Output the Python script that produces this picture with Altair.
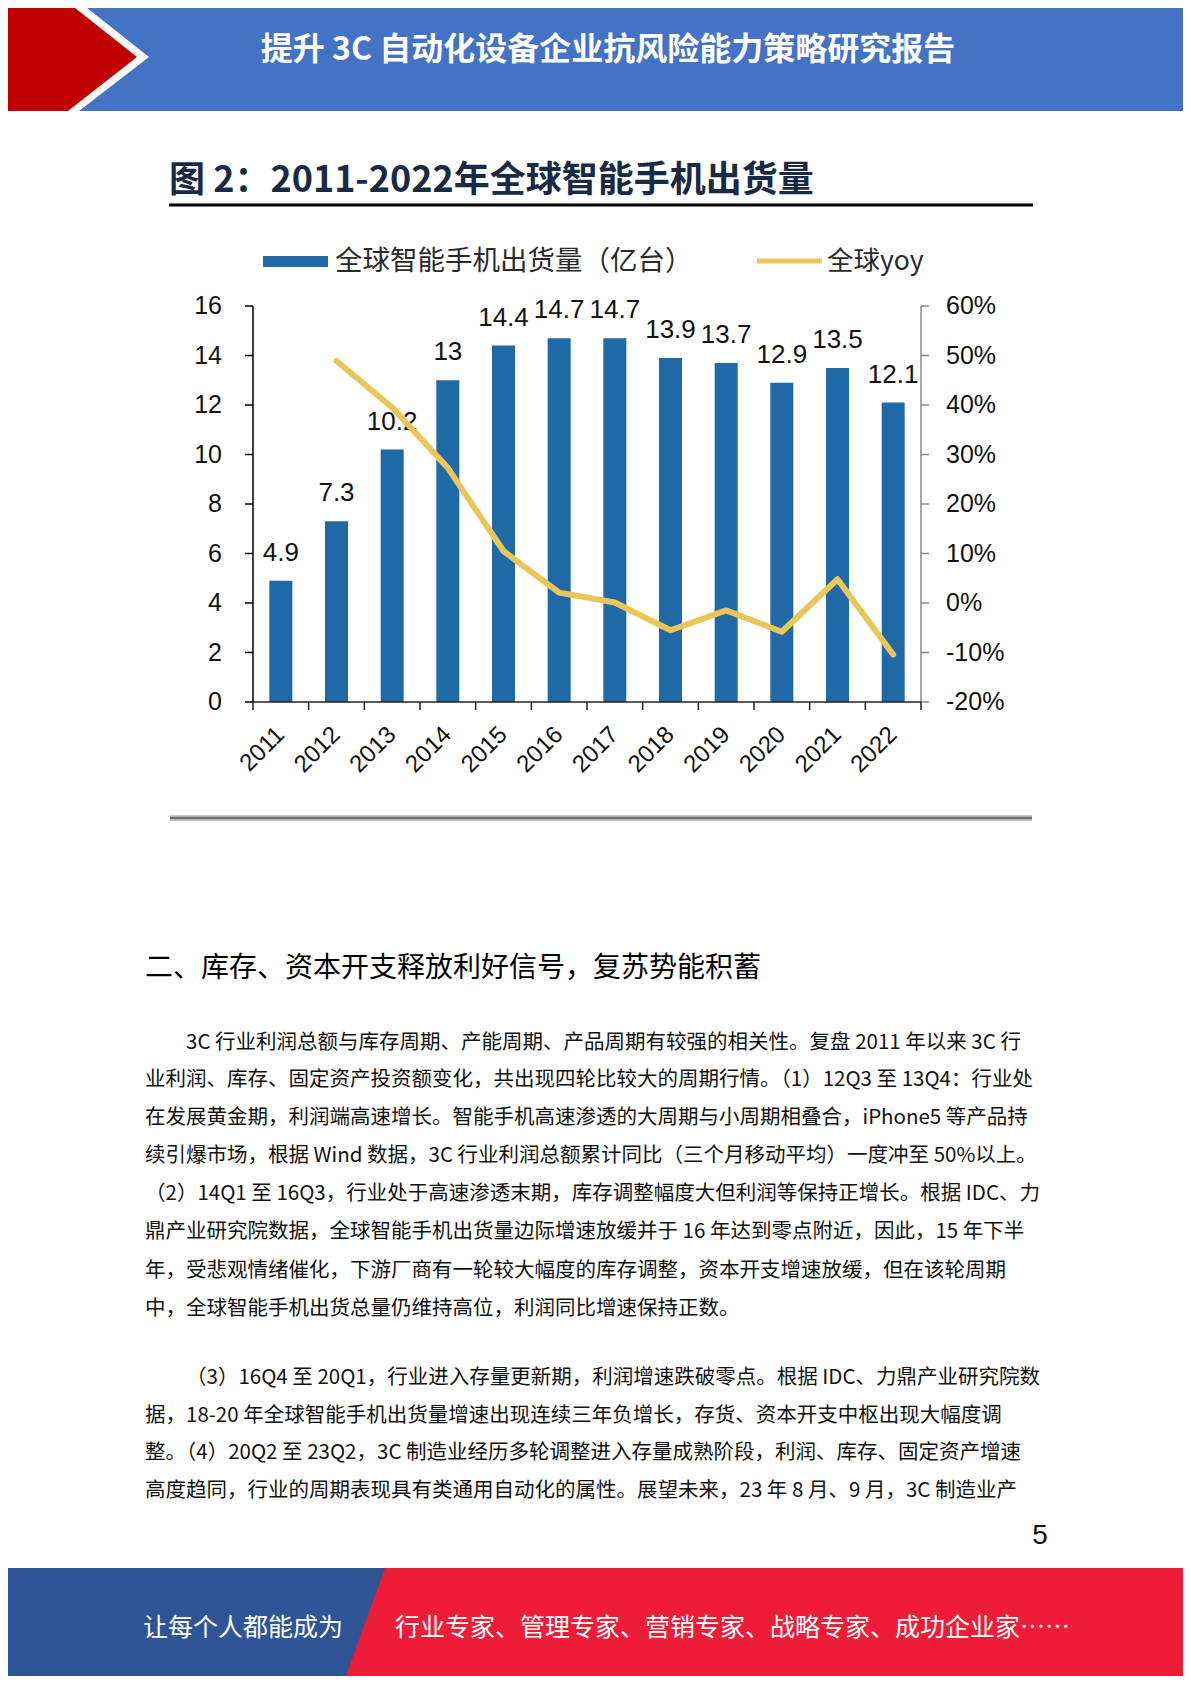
import altair as alt
import pandas as pd

# ---------------- data ----------------
years = ["2011", "2012", "2013", "2014", "2015", "2016", "2017", "2018", "2019", "2020", "2021", "2022"]
shipments = [4.9, 7.3, 10.2, 13, 14.4, 14.7, 14.7, 13.9, 13.7, 12.9, 13.5, 12.1]
ship_labels = ["4.9", "7.3", "10.2", "13", "14.4", "14.7", "14.7", "13.9", "13.7", "12.9", "13.5", "12.1"]
yoy_years = ["2012", "2013", "2014", "2015", "2016", "2017", "2018", "2019", "2020", "2021", "2022"]
yoy = [48.9, 39.5, 27.3, 10.5, 2.1, 0.1, -5.5, -1.5, -5.8, 4.8, -10.4]
left_ticks = [0, 2, 4, 6, 8, 10, 12, 14, 16]
left_tick_labels = ["0", "2", "4", "6", "8", "10", "12", "14", "16"]
right_ticks = [-20, -10, 0, 10, 20, 30, 40, 50, 60]
right_tick_labels = ["-20%", "-10%", "0%", "10%", "20%", "30%", "40%", "50%", "60%"]
band_edges = list(range(13))

header_title = "提升 3C 自动化设备企业抗风险能力策略研究报告"
chart_title = "图 2：2011-2022年全球智能手机出货量"
legend_bar = "全球智能手机出货量（亿台）"
legend_line = "全球yoy"
section_heading = "二、库存、资本开支释放利好信号，复苏势能积蓄"
body_lines = [
    "3C 行业利润总额与库存周期、产能周期、产品周期有较强的相关性。复盘 2011 年以来 3C 行",
    "业利润、库存、固定资产投资额变化，共出现四轮比较大的周期行情。（1）12Q3 至 13Q4：行业处",
    "在发展黄金期，利润端高速增长。智能手机高速渗透的大周期与小周期相叠合，iPhone5 等产品持",
    "续引爆市场，根据 Wind 数据，3C 行业利润总额累计同比（三个月移动平均）一度冲至 50%以上。",
    "（2）14Q1 至 16Q3，行业处于高速渗透末期，库存调整幅度大但利润等保持正增长。根据 IDC、力",
    "鼎产业研究院数据，全球智能手机出货量边际增速放缓并于 16 年达到零点附近，因此，15 年下半",
    "年，受悲观情绪催化，下游厂商有一轮较大幅度的库存调整，资本开支增速放缓，但在该轮周期",
    "中，全球智能手机出货总量仍维持高位，利润同比增速保持正数。",
    "（3）16Q4 至 20Q1，行业进入存量更新期，利润增速跌破零点。根据 IDC、力鼎产业研究院数",
    "据，18-20 年全球智能手机出货量增速出现连续三年负增长，存货、资本开支中枢出现大幅度调",
    "整。（4）20Q2 至 23Q2，3C 制造业经历多轮调整进入存量成熟阶段，利润、库存、固定资产增速",
    "高度趋同，行业的周期表现具有类通用自动化的属性。展望未来，23 年 8 月、9 月，3C 制造业产",
]
body_indent = [True, False, False, False, False, False, False, False, True, False, False, False]
page_number = "5"
footer_left = "让每个人都能成为"
footer_right = "行业专家、管理专家、营销专家、战略专家、成功企业家……"

# ---------------- styles ----------------
M = 8  # page margin
CJK = "Noto Sans CJK SC"
SANS = "Liberation Sans, Arial, sans-serif"
BAR_BLUE = "#1F69A6"
YELLOW = "#E8C65A"


def px(v):
    return v - M


one = pd.DataFrame({"k": [0]})


def rect(x1, y1, x2, y2, color):
    return alt.Chart(one).mark_rect(color=color, strokeWidth=0).encode(
        x=alt.value(px(x1)), x2=alt.value(px(x2)), y=alt.value(px(y1)), y2=alt.value(px(y2)))


def poly(points, color):
    path = "M" + " L".join(f"{x},{y}" for x, y in points) + " Z"
    return alt.Chart(one).mark_point(shape=path, size=4, filled=True, fill=color,
                                     opacity=1, strokeWidth=0).encode(
        x=alt.value(-M), y=alt.value(-M))


def hline(x1, x2, y, color, w):
    return alt.Chart(one).mark_rule(color=color, strokeWidth=w).encode(
        x=alt.value(px(x1)), x2=alt.value(px(x2)), y=alt.value(px(y)))


def vline(x, y1, y2, color, w):
    return alt.Chart(one).mark_rule(color=color, strokeWidth=w).encode(
        x=alt.value(px(x)), y=alt.value(px(y1)), y2=alt.value(px(y2)))


def text(s, x, y, size, color="#000", weight="normal", align="left", font=CJK, baseline="middle"):
    return alt.Chart(one).mark_text(text=s, fontSize=size, font=font, fontWeight=weight,
                                    color=color, align=align, baseline=baseline).encode(
        x=alt.value(px(x)), y=alt.value(px(y)))


# ---------------- plot geometry (page px) ----------------
PL, PR = 253, 921      # plot left / right
PB, PT = 702, 306      # plot bottom / top

xs = alt.Scale(type="point", domain=years, range=[px(PL), px(PR)], padding=0.5)
xb = alt.Scale(domain=[0, 12], range=[px(PL), px(PR)], zero=False, nice=False)
yL = alt.Scale(domain=[0, 16], range=[px(PB), px(PT)], zero=False, nice=False)
yR = alt.Scale(domain=[-20, 60], range=[px(PB), px(PT)], zero=False, nice=False)

df = pd.DataFrame({"year": years, "ship": shipments, "lab": ship_labels})
dfy = pd.DataFrame({"year": yoy_years, "yoy": yoy})
dfl = pd.DataFrame({"v": left_ticks, "lab": left_tick_labels})
dfr = pd.DataFrame({"v": right_ticks, "lab": right_tick_labels})
dfb = pd.DataFrame({"b": band_edges})

layers = []

# header
layers.append(rect(0, 0, 1191, 111, "#4472C4"))
layers.append(poly([(0, 0), (77, 0), (149, 57), (79, 111), (0, 111)], "#FFFFFF"))
layers.append(poly([(0, 0), (65, 0), (137, 57), (68, 111), (0, 111)], "#C00000"))
layers.append(text(header_title, 608, 50, 32, color="#FFFFFF", weight="bold", align="center"))

# chart title
layers.append(text(chart_title, 169, 181, 36, color="#1B2A44", weight="bold"))
layers.append(hline(169, 1033, 205, "#000000", 3))

# legend
layers.append(rect(263, 256, 328, 267, BAR_BLUE))
layers.append(text(legend_bar, 335, 262, 27.5, color="#2A2A2A"))
layers.append(hline(757, 822, 261, YELLOW, 5))
layers.append(text(legend_line, 827, 262, 26.5, color="#2A2A2A"))

# bars
layers.append(alt.Chart(df).mark_bar(width=23, color=BAR_BLUE).encode(
    x=alt.X("year:N", scale=xs, axis=None),
    y=alt.Y("ship:Q", scale=yL, axis=None),
    y2=alt.datum(0)))
layers.append(alt.Chart(df).mark_text(dy=-20, baseline="alphabetic", fontSize=26, font=SANS,
                                      color="#111111").encode(
    x=alt.X("year:N", scale=xs, axis=None),
    y=alt.Y("ship:Q", scale=yL, axis=None),
    text="lab:N"))

# yoy line
layers.append(alt.Chart(dfy).mark_line(color=YELLOW, strokeWidth=6, strokeJoin="round",
                                       strokeCap="round").encode(
    x=alt.X("year:N", scale=xs, axis=None),
    y=alt.Y("yoy:Q", scale=yR, axis=None)))

# axes lines
layers.append(vline(PL, PT, PB, "#000000", 1.5))
layers.append(vline(PR, PT, PB, "#8A8A8A", 1.5))
layers.append(hline(PL, PR, PB, "#222222", 1.5))

# left ticks + labels
layers.append(alt.Chart(dfl).mark_rule(color="#000000", strokeWidth=1.5).encode(
    x=alt.value(px(PL - 8)), x2=alt.value(px(PL)),
    y=alt.Y("v:Q", scale=yL, axis=None)))
layers.append(alt.Chart(dfl).mark_text(align="right", baseline="middle", fontSize=25, font=SANS,
                                       color="#111111").encode(
    x=alt.value(px(222)), y=alt.Y("v:Q", scale=yL, axis=None), text="lab:N"))

# right ticks + labels
layers.append(alt.Chart(dfr).mark_rule(color="#8A8A8A", strokeWidth=1.5).encode(
    x=alt.value(px(PR)), x2=alt.value(px(PR + 8)),
    y=alt.Y("v:Q", scale=yR, axis=None)))
layers.append(alt.Chart(dfr).mark_text(align="left", baseline="middle", fontSize=25, font=SANS,
                                       color="#111111").encode(
    x=alt.value(px(946)), y=alt.Y("v:Q", scale=yR, axis=None), text="lab:N"))

# x ticks + labels
layers.append(alt.Chart(dfb).mark_rule(color="#222222", strokeWidth=1.5).encode(
    x=alt.X("b:Q", scale=xb, axis=None),
    y=alt.value(px(PB)), y2=alt.value(px(PB + 8))))
layers.append(alt.Chart(df).mark_text(angle=315, align="right", baseline="middle", fontSize=24,
                                      font=SANS, color="#111111").encode(
    x=alt.X("year:N", scale=xs, axis=None),
    y=alt.value(px(731)), text="year:N"))

# bottom grey rule of the figure
layers.append(hline(170, 1032, 818, "#C8C8C8", 6))
layers.append(hline(170, 1032, 818, "#707070", 2.5))

# section heading and body
layers.append(text(section_heading, 145, 969, 28, color="#000000"))
body_y = [1043, 1080, 1118, 1156, 1194, 1232, 1271, 1309, 1378, 1416, 1453, 1491]
for line, yy, ind in zip(body_lines, body_y, body_indent):
    layers.append(text(line, 186 if ind else 145, yy, 20.5, color="#111111"))

layers.append(text(page_number, 1040, 1536, 28, color="#111111", align="center", font=SANS))

# footer
layers.append(rect(0, 1568, 1191, 1684, "#EE1C37"))
layers.append(poly([(0, 1568), (385, 1568), (343, 1684), (0, 1684)], "#2F5597"))
layers.append(text(footer_left, 143, 1628, 25, color="#FFFFFF"))
layers.append(text(footer_right, 395, 1628, 25, color="#FFFFFF"))

chart = alt.layer(*layers).resolve_scale(x="independent", y="independent").properties(
    width=1175, height=1668, autosize=alt.AutoSizeParams(type="none"), padding=0,
    background="#FFFFFF"
).configure_view(strokeWidth=0)

chart.save("out.html", embed_options={"renderer": "svg", "actions": False})
